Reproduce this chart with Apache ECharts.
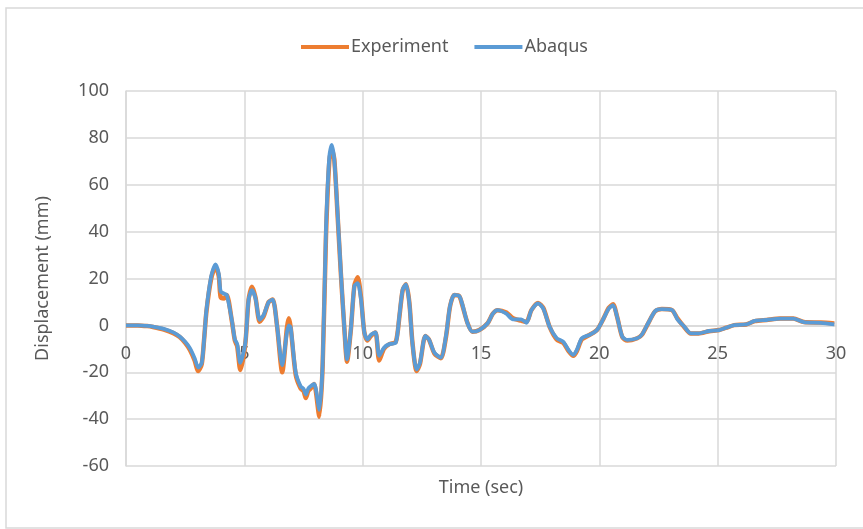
<!DOCTYPE html>
<html>
<head>
<meta charset="utf-8">
<title>Displacement</title>
<script src="https://cdn.jsdelivr.net/npm/echarts@6/dist/echarts.min.js"></script>
<style>
  html, body { margin: 0; padding: 0; background: #fff; }
  #chart { width: 863px; height: 529px; }
</style>
</head>
<body>
<div id="chart"></div>
<script>
// 时间 (sec)
var timeList = [
  0, 0.5, 0.9, 1.14, 1.6, 2.0, 2.27, 2.5, 2.7, 2.9, 3.05, 3.2, 3.3, 3.4, 3.6, 3.78, 3.92, 4.0, 4.15, 4.26,
  4.47, 4.6, 4.7, 4.83, 5.04, 5.18, 5.32, 5.47, 5.65, 5.82, 6.03, 6.2, 6.38, 6.6, 6.8, 6.88, 6.96, 7.17, 7.38, 7.5,
  7.6, 7.7, 7.8, 7.95, 8.02, 8.17, 8.31, 8.45, 8.59, 8.69, 8.8, 8.94, 9.08, 9.23, 9.34, 9.5, 9.65, 9.79, 9.93, 10.07,
  10.2, 10.35, 10.54, 10.7, 10.9, 11.13, 11.4, 11.55, 11.69, 11.83, 11.97, 12.1, 12.28, 12.42, 12.65, 12.8, 13.03, 13.3, 13.52, 13.69,
  13.87, 14.08, 14.2, 14.43, 14.64, 14.93, 15.28, 15.5, 15.7, 16.07, 16.35, 16.7, 16.92, 17.13, 17.41, 17.63, 17.9, 18.2, 18.48, 18.7,
  18.9, 19.05, 19.26, 19.6, 19.9, 20.18, 20.4, 20.58, 20.75, 20.97, 21.18, 21.6, 21.8, 22.07, 22.36, 22.64, 23.07, 23.3, 23.57, 23.86,
  24.2, 24.64, 25.07, 25.36, 25.7, 26.2, 26.57, 27.07, 27.64, 28.2, 28.64, 29.36, 29.93
]
// Abaqus 位移 (mm)
var abaqusList = [
  0, 0, -0.2, -0.5, -1.5, -3, -4.7, -7, -9.7, -14, -18, -16, -6, 6.7, 21, 26, 22, 14.5, 13.5, 13,
  2.4, -6, -8, -16, -7.5, 11, 15, 11.6, 2.4, 4.5, 10, 11, 0, -17, -3, 0, -1, -20, -26, -27,
  -29.5, -27, -26, -25, -27, -36, -16, 41, 72, 77, 70.7, 48, 22.4, -1.7, -14.5, -1.7, 16.8, 18, 11, -3,
  -6, -4, -3, -13, -9.5, -8, -7.4, 4, 15.3, 17.5, 9.7, -7.4, -18.8, -16, -4.5, -6, -11.6, -13.8, -4.5, 8.2,
  13, 12.5, 9.4, 0.9, -2.7, -2, 0.9, 5, 6.5, 5, 2.6, 2.6, 1.1, 6.5, 9.4, 7.2, -0.6, -5.5, -7, -10.5,
  -12.6, -10.5, -5.5, -4, -2, 3, 7.2, 8.6, 3.7, -4.8, -6.2, -5.5, -3.9, 1.1, 6.1, 6.9, 6.6, 2.6, -0.3, -3.4,
  -3.4, -2.4, -2, -1, 0.1, 0.4, 1.9, 2.3, 2.9, 2.9, 1.4, 1.1, 0.4
]
// Experiment 位移 (mm)
var experimentList = [
  0, 0, -0.3, -0.7, -1.8, -3.3, -5, -7.5, -10.5, -15, -19.5, -16.5, -6, 6, 20, 25, 21, 12, 11.5, 13,
  2, -6.5, -9, -19, -8, 11, 16.5, 12, 1.5, 4, 10, 11, 0, -20, -1, 3, -1, -21, -27, -28,
  -31, -28, -27, -25, -28, -39, -17, 38, 70, 75, 71, 47, 22, -2, -15.5, -2, 17, 20.5, 12, -3,
  -6.5, -4.5, -3, -15, -10, -8, -7, 3.5, 15, 17.5, 10, -7, -19.5, -16.5, -4.5, -6, -12, -14, -5, 8,
  13, 12.5, 9, 1, -2.7, -2, 0.9, 5, 6.5, 5.5, 3, 2, 1.5, 6.5, 9.6, 7.5, -0.6, -6, -7.5, -11,
  -13, -11, -6, -4, -2, 3, 7.5, 9, 3.7, -5, -6.5, -5.5, -4, 1, 6, 7, 6.5, 3, -0.5, -3.5,
  -3.5, -2.5, -2, -1, 0.1, 0.4, 1.8, 2.3, 2.9, 2.9, 1.4, 1.2, 0.8
]
// 坐标轴刻度
var xTicks = [0, 5, 10, 15, 20, 25, 30]
var yTicks = [-60, -40, -20, 0, 20, 40, 60, 80, 100]

var seriesNames = ['Experiment', 'Abaqus']

function toPairs(values) {
  return timeList.map(function (t, i) { return [t, values[i]] })
}

var textColor = '#595959'
var gridColor = '#D9D9D9'
var fontName = '"Noto Sans", sans-serif'

// 横轴标签放在 y=0 处：绘图区高 375px，0 离底部 60/160
var plotTop = 91, plotBottom = 63
var plotHeight = 529 - plotTop - plotBottom
var zeroOffset = -plotHeight * (0 - yTicks[0]) / (yTicks[yTicks.length - 1] - yTicks[0])

var myChart = echarts.init(document.getElementById('chart'))
myChart.setOption({
  animation: false,
  color: ['#ED7D31', '#5B9BD5'],
  graphic: [
    {
      type: 'rect',
      shape: { x: 6, y: 8, width: 900, height: 520 },
      style: { fill: 'none', stroke: gridColor, lineWidth: 1.5 },
      z: -10
    },
    {
      type: 'text',
      x: 481,
      y: 488,
      style: {
        text: 'Time (sec)',
        fill: textColor,
        font: '18px ' + fontName,
        textAlign: 'center',
        textVerticalAlign: 'middle'
      }
    }
  ],
  legend: {
    left: 296,
    top: 33,
    icon: 'rect',
    itemWidth: 48,
    itemHeight: 4,
    itemGap: 26,
    textStyle: {
      color: textColor,
      fontFamily: fontName,
      fontSize: 18,
      padding: [0, 0, 0, -3]
    },
    data: seriesNames
  },
  grid: {
    left: 126,
    right: 27,
    top: plotTop,
    bottom: plotBottom
  },
  xAxis: {
    type: 'value',
    position: 'bottom',
    offset: zeroOffset,
    min: xTicks[0],
    max: xTicks[xTicks.length - 1],
    interval: xTicks[1] - xTicks[0],
    axisLine: { onZero: false, lineStyle: { color: gridColor, width: 1.5 } },
    axisTick: { show: false },
    axisLabel: {
      color: textColor,
      fontFamily: fontName,
      fontSize: 18,
      margin: 19
    },
    splitLine: { lineStyle: { color: gridColor, width: 1.5 } }
  },
  yAxis: {
    type: 'value',
    min: yTicks[0],
    max: yTicks[yTicks.length - 1],
    interval: yTicks[1] - yTicks[0],
    name: 'Displacement (mm)',
    nameLocation: 'middle',
    nameGap: 74,
    nameTextStyle: {
      color: textColor,
      fontFamily: fontName,
      fontSize: 18
    },
    axisLine: { show: true, onZero: false, lineStyle: { color: gridColor, width: 1.5 } },
    axisTick: { show: false },
    axisLabel: {
      color: textColor,
      fontFamily: fontName,
      fontSize: 18,
      margin: 17
    },
    splitLine: { lineStyle: { color: gridColor, width: 1.5 } }
  },
  series: [
    {
      name: seriesNames[0],
      type: 'line',
      showSymbol: false,
      smooth: 0.25,
      lineStyle: { width: 4.5 },
      data: toPairs(experimentList)
    },
    {
      name: seriesNames[1],
      type: 'line',
      showSymbol: false,
      smooth: 0.25,
      lineStyle: { width: 3.8 },
      data: toPairs(abaqusList)
    }
  ]
})
</script>
</body>
</html>
